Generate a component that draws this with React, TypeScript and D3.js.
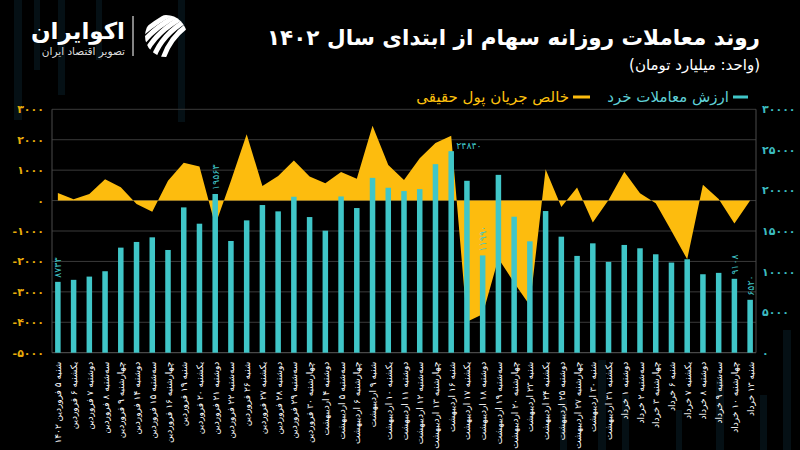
import React, { useEffect } from 'react';
import * as d3 from 'd3';

const dates = [
  'شنبه ۵ فروردین ۱۴۰۲', 'یکشنبه ۶ فروردین', 'دوشنبه ۷ فروردین', 'سه‌شنبه ۸ فروردین', 'چهارشنبه ۹ فروردین',
  'دوشنبه ۱۴ فروردین', 'سه‌شنبه ۱۵ فروردین', 'چهارشنبه ۱۶ فروردین', 'شنبه ۱۹ فروردین', 'یکشنبه ۲۰ فروردین',
  'دوشنبه ۲۱ فروردین', 'سه‌شنبه ۲۲ فروردین', 'شنبه ۲۶ فروردین', 'یکشنبه ۲۷ فروردین', 'دوشنبه ۲۸ فروردین',
  'سه‌شنبه ۲۹ فروردین', 'چهارشنبه ۳۰ فروردین', 'دوشنبه ۴ اردیبهشت', 'سه‌شنبه ۵ اردیبهشت', 'چهارشنبه ۶ اردیبهشت',
  'شنبه ۹ اردیبهشت', 'یکشنبه ۱۰ اردیبهشت', 'دوشنبه ۱۱ اردیبهشت', 'سه‌شنبه ۱۲ اردیبهشت', 'چهارشنبه ۱۳ اردیبهشت',
  'شنبه ۱۶ اردیبهشت', 'یکشنبه ۱۷ اردیبهشت', 'دوشنبه ۱۸ اردیبهشت', 'سه‌شنبه ۱۹ اردیبهشت', 'چهارشنبه ۲۰ اردیبهشت',
  'شنبه ۲۳ اردیبهشت', 'یکشنبه ۲۴ اردیبهشت', 'دوشنبه ۲۵ اردیبهشت', 'چهارشنبه ۲۷ اردیبهشت', 'شنبه ۳۰ اردیبهشت',
  'یکشنبه ۳۱ اردیبهشت', 'دوشنبه ۱ خرداد', 'سه‌شنبه ۲ خرداد', 'چهارشنبه ۳ خرداد', 'شنبه ۶ خرداد',
  'یکشنبه ۷ خرداد', 'دوشنبه ۸ خرداد', 'سه‌شنبه ۹ خرداد', 'چهارشنبه ۱۰ خرداد', 'شنبه ۱۳ خرداد',
];

// ارزش معاملات خرد (right axis)
const retailValue = [
  8733, 8980, 9380, 10040, 12950, 13650, 14220, 12660, 17910, 15900,
  19563, 13770, 16310, 18200, 17420, 19220, 16720, 15040, 19260, 17830,
  21550, 20330, 19920, 20160, 23240, 24840, 21190, 11990, 21920, 16760,
  13730, 17460, 14300, 11930, 13480, 11190, 13280, 12870, 12130, 11110,
  11520, 9670, 9840, 9108, 6520,
];

// خالص جریان پول حقیقی (left axis)
const netRealFlow = [
  245, 45, 220, 700, 440, -110, -370, 650, 1240, 1120,
  -810, 650, 2180, 480, 810, 1320, 790, 570, 940, 720,
  2460, 1170, 680, 1390, 1890, 2130, -3980, -3740, -1900, -2700,
  -3450, 1030, -210, 430, -720, 20, 950, 240, -90, -1000,
  -1930, 520, 50, -750, 0,
];

const leftTicks = [-5000, -4000, -3000, -2000, -1000, 0, 1000, 2000, 3000];
const rightTicks = [0, 5000, 10000, 15000, 20000, 25000, 30000];
const rotatedLabelIdx = [0, 10, 27, 43, 44];
const horizontalLabelIdx = [25];

const TITLE = 'روند معاملات روزانه سهام از ابتدای سال ۱۴۰۲';
const SUBTITLE = '(واحد: میلیارد تومان)';
const LEG_BARS = 'ارزش معاملات خرد';
const LEG_AREA = 'خالص جریان پول حقیقی';

const decoStripes = [
  [14, 0, 8, 120], [34, 0, 6, 70], [58, 0, 7, 95], [96, 0, 6, 60], [178, 0, 7, 122],
  [560, 400, 7, 50], [598, 360, 8, 90], [622, 395, 7, 55], [676, 410, 6, 40], [716, 380, 8, 70],
  [760, 395, 7, 55], [783, 330, 8, 120],
];

const fa = (v: number | string) => String(v).replace(/\d/g, (d) => '۰۱۲۳۴۵۶۷۸۹'[+d]);

const FONT = '"DejaVu Sans", "Noto Sans", sans-serif';
const TEAL = '#40c6c8';
const YELLOW = '#fdbc0e';

export default function App() {
  useEffect(() => {
    document.body.style.margin = '0';
    document.body.style.background = '#000';
  }, []);

  const W = 800, H = 450;
  const plotL = 50, plotR = 758, plotT = 109.3, plotB = 352.7;

  const x = d3.scaleBand<string>().domain(dates).range([plotL, plotR]).paddingInner(0.65).paddingOuter(0.325);
  const yL = d3.scaleLinear().domain([-5000, 3000]).range([plotB, plotT]);
  const yR = d3.scaleLinear().domain([0, 30000]).range([plotB, plotT]);
  const cx = (i: number) => (x(dates[i]) as number) + x.bandwidth() / 2;

  const area = d3.area<number>()
    .x((_, i) => cx(i))
    .y0(yL(0))
    .y1((d) => yL(d));

  const gridL = 52, gridR = 756;

  return (
    <svg width={W} height={H} style={{ position: 'absolute', left: 0, top: 0, background: '#000' }} fontFamily={FONT}>
      <rect x={0} y={0} width={W} height={H} fill="#000" />
      {decoStripes.map(([sx, sy, sw, sh], i) => (
        <rect key={'d' + i} x={sx} y={sy} width={sw} height={sh} fill="#0a1e26" opacity={0.55} />
      ))}

      {/* logo */}
      <g>
        <defs>
          <clipPath id="logoClip">
            <circle cx={166} cy={36} r={21} />
          </clipPath>
        </defs>
        <g clipPath="url(#logoClip)" fill="none" stroke="#fff" strokeWidth={5}>
          {[-16, -6, 4, 14, 24].map((o, i) => (
            <path key={i} d={`M ${138 + o} ${62} Q ${148 + o} ${30 - o * 0.2} ${194 + o} ${10}`} />
          ))}
        </g>
        <line x1={133} x2={133} y1={16} y2={56} stroke="#ddd" strokeWidth={1.2} />
        <text x={125} y={39} direction="rtl" textAnchor="start" fill="#fff" fontSize={23} fontWeight="bold">اکوایران</text>
        <text x={125} y={55} direction="rtl" textAnchor="start" fill="#ddd" fontSize={10.5}>تصویر اقتصاد ایران</text>
      </g>

      {/* title */}
      <text x={760} y={45} direction="rtl" textAnchor="start" fill="#fff" fontSize={21.5} fontWeight="bold">{TITLE}</text>
      <text x={760} y={70} direction="rtl" textAnchor="start" fill="#fff" fontSize={15}>{SUBTITLE}</text>

      {/* legend */}
      <line x1={733} x2={748} y1={97} y2={97} stroke={TEAL} strokeWidth={3} />
      <text x={729} y={102} direction="rtl" textAnchor="start" fill="#5fd0d6" fontSize={15}>{LEG_BARS}</text>
      <line x1={573} x2={590} y1={97} y2={97} stroke={YELLOW} strokeWidth={3} />
      <text x={569} y={102} direction="rtl" textAnchor="start" fill="#ffc20e" fontSize={15}>{LEG_AREA}</text>

      {/* grid */}
      {leftTicks.map((t) => (
        <line key={'g' + t} x1={gridL} x2={gridR} y1={yL(t)} y2={yL(t)} stroke={t === -5000 ? '#5a5a5a' : '#3a3a3a'} strokeWidth={1} />
      ))}
      <line x1={gridL} x2={gridL} y1={plotT} y2={plotB} stroke="#4a4a4a" />
      <line x1={gridR} x2={gridR} y1={plotT} y2={plotB} stroke="#4a4a4a" />

      {/* area */}
      <path d={area(netRealFlow) || ''} fill={YELLOW} />

      {/* bars */}
      {retailValue.map((v, i) => (
        <rect key={'b' + i} x={x(dates[i])} y={yR(v)} width={x.bandwidth()} height={plotB - yR(v)} fill={TEAL} />
      ))}

      {/* bar labels */}
      {rotatedLabelIdx.map((i) => (
        <text key={'rl' + i} transform={`translate(${cx(i) + 3.5},${yR(retailValue[i]) - 4}) rotate(-90)`}
          textAnchor="start" fill={TEAL} fontSize={9.5}>{fa(retailValue[i])}</text>
      ))}
      {horizontalLabelIdx.map((i) => (
        <text key={'hl' + i} x={cx(i) + 5} y={yR(retailValue[i]) - 2} textAnchor="start" fill={TEAL} fontSize={9.5}>{fa(retailValue[i])}</text>
      ))}

      {/* left axis ticks */}
      {leftTicks.map((t) => (
        <text key={'lt' + t} x={44} y={yL(t) + 4} textAnchor="end" fill="#e8ac0a" fontSize={11} fontWeight="bold">{t < 0 ? '-' + fa(-t) : fa(t)}</text>
      ))}
      {/* right axis ticks */}
      {rightTicks.map((t) => (
        <text key={'rt' + t} x={762} y={yR(t) + 4} textAnchor="start" fill="#3cbcc0" fontSize={11} fontWeight="bold">{fa(t)}</text>
      ))}

      {/* x labels */}
      {dates.map((d, i) => (
        <text key={'x' + i} transform={`translate(${cx(i) + 3.5},${plotB + 9}) rotate(-90)`}
          direction="rtl" textAnchor="start" fill="#fff" fontSize={9}>{d}</text>
      ))}
    </svg>
  );
}
